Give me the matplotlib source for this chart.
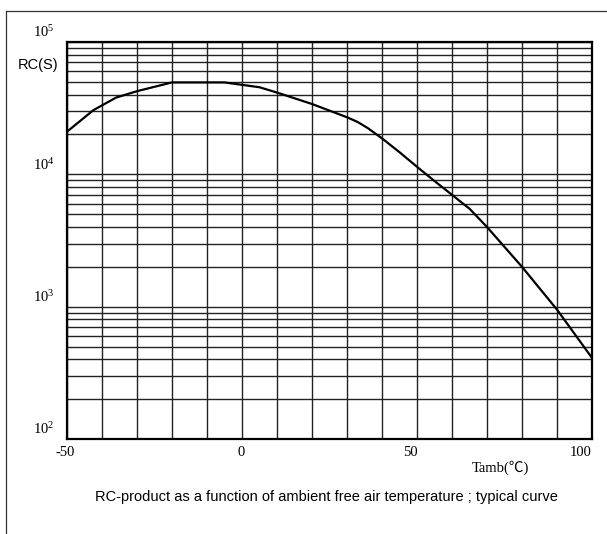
import matplotlib
matplotlib.use("Agg")
import matplotlib.pyplot as plt
from matplotlib.lines import Line2D
from matplotlib.ticker import LogLocator, NullFormatter, FixedLocator, MultipleLocator
from matplotlib.transforms import ScaledTranslation

plt.rcParams['mathtext.fontset'] = 'custom'
plt.rcParams['mathtext.rm'] = 'Liberation Serif'
plt.rcParams['mathtext.it'] = 'Liberation Serif'

# ---- data ----
temperature = [-50, -42.5, -36, -30, -20, -5, 5, 10, 20, 25, 30, 33, 36, 40, 45, 50, 55, 60, 63, 65, 70, 80, 90, 100]
rc_product = [21000, 30500, 38000, 42500, 49500, 49500, 45500, 41500, 34000, 30300, 27000, 24900, 22300, 18700,
              14700, 11400, 8900, 7000, 6050, 5500, 4000, 2000, 950, 410]
x_ticks = [-50, 0, 50, 100]
x_tick_labels = ['-50', '0', '50', '100']
y_ticks = [1e2, 1e3, 1e4, 1e5]
y_tick_labels = [r'$10^{2}$', r'$10^{3}$', r'$10^{4}$', r'$10^{5}$']
y_label = 'RC(S)'
x_label = 'Tamb(\u2103)'
caption = 'RC-product as a function of ambient free air temperature ; typical curve'

W, H, DPI = 607, 534, 100
fig = plt.figure(figsize=(W / DPI, H / DPI), dpi=DPI)
ax = fig.add_axes([67 / W, 1 - 439 / H, (592 - 67) / W, (439 - 42) / H])

ax.plot(temperature, rc_product, color='black', lw=1.6, solid_joinstyle='round')

ax.set_yscale('log')
ax.set_xlim(-50, 100)
ax.set_ylim(1e2, 1e5)

ax.yaxis.set_major_locator(FixedLocator(y_ticks))
ax.set_yticklabels(y_tick_labels)
ax.yaxis.set_minor_locator(LogLocator(base=10, subs=range(2, 10)))
ax.yaxis.set_minor_formatter(NullFormatter())

ax.xaxis.set_major_locator(FixedLocator(x_ticks))
ax.set_xticklabels(x_tick_labels)
ax.xaxis.set_minor_locator(MultipleLocator(10))

ax.grid(True, which='both', color='#222222', lw=1.0)
ax.set_axisbelow(True)
ax.tick_params(which='both', length=0)
ax.tick_params(axis='x', pad=5)
ax.tick_params(axis='y', pad=9)
for lab in ax.get_xticklabels() + ax.get_yticklabels():
    lab.set_fontfamily('Liberation Serif')
    lab.set_fontsize(10.5)
for sp in ax.spines.values():
    sp.set_linewidth(1.6)
    sp.set_color('black')

# y tick labels sit above their grid lines in the reference
for lab in ax.get_yticklabels():
    lab.set_transform(lab.get_transform() + ScaledTranslation(0, 11 / DPI, fig.dpi_scale_trans))
# x tick labels shifted slightly left
x_shifts = [-2, -1, -7, -11]
for lab, dx in zip(ax.get_xticklabels(), x_shifts):
    lab.set_transform(lab.get_transform() + ScaledTranslation(dx / DPI, 0, fig.dpi_scale_trans))

fig.text(38 / W, 1 - 65 / H, y_label, ha='center', va='center',
         family='Liberation Sans', fontsize=10.5)
fig.text(500 / W, 1 - 468 / H, x_label, ha='center', va='center',
         family=['Liberation Serif', 'Noto Sans CJK SC'], fontsize=10.5)
fig.text(326 / W, 1 - 497 / H, caption, ha='center', va='center',
         family='Liberation Sans', fontsize=10.5)

# outer frame (left and top edges)
fig.add_artist(Line2D([5.5 / W, 5.5 / W], [0, 1 - 10.5 / H], transform=fig.transFigure,
                      color='#333333', lw=0.9))
fig.add_artist(Line2D([5.5 / W, 1], [1 - 10.5 / H, 1 - 10.5 / H], transform=fig.transFigure,
                      color='#333333', lw=0.9))

fig.savefig('out.png', dpi=DPI)
